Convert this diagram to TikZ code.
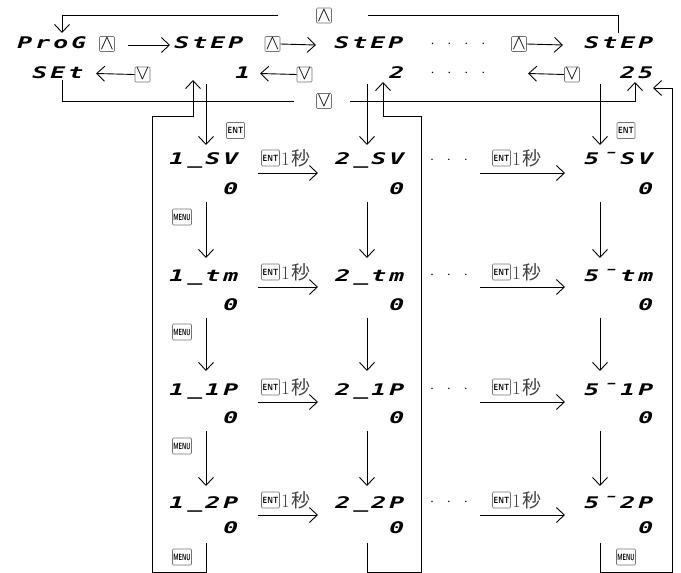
\documentclass[tikz,border=0pt]{standalone}
\usepackage{fontspec}
\usetikzlibrary{arrows.meta}
\newfontfamily\segfnt{DejaVu Sans Mono}[FakeStretch=1.55]
\newfontfamily\cjk{Noto Sans CJK JP}
\makeatletter
\newcommand\sg[1]{{\segfnt\bfseries\itshape\fontsize{16}{16}\selectfont\@tfor\sgx:=#1\do{\makebox[18pt][c]{\sgx}}}}
\makeatother
\newcommand\secs{{\fontsize{19}{19}\selectfont 1\kern2pt{\cjk 秒}}}
\newcommand\dotcells[1]{{\fontsize{14}{14}\selectfont\foreach \k in {1,...,#1}{\makebox[17pt][c]{$\cdot$}}}}
\tikzset{
  seg/.style={anchor=base east, inner sep=0pt},
  key/.style={draw=black!55, rounded corners=1pt, minimum width=15pt, minimum height=15pt,
    inner sep=0pt, line width=0.6pt, fill=white, font=\fontsize{22}{22}\selectfont},
  entkey/.style={draw=black!55, rounded corners=1pt, minimum width=18pt, minimum height=16pt,
    inner sep=0pt, line width=0.6pt, fill=white, font=\sffamily\bfseries\fontsize{9}{9}\selectfont},
  menukey/.style={draw=black!55, rounded corners=1pt, minimum width=19pt, minimum height=16pt,
    inner sep=0pt, line width=0.6pt, fill=white, font=\sffamily\bfseries\fontsize{9}{9}\selectfont},
  sec/.style={anchor=base west, inner sep=0pt, text=black!75},
  dots/.style={inner sep=0pt},
  ln/.style={line width=0.9pt},
  arr/.style={ln, -{Straight Barb[length=8pt,width=15pt]}},
}
\newcommand\menu{\scalebox{0.6}[1]{MENU}}
\newcommand\ent{\scalebox{0.8}[1]{ENT}}
\newcommand\upk{\raisebox{-1pt}{$\wedge$}}
\newcommand\dnk{\raisebox{1pt}{$\vee$}}
\begin{document}
\begin{tikzpicture}[x=1pt,y=-1pt]
\useasboundingbox (0,0) rectangle (681,573);

% ---------- top rows ----------
\node[seg] (prog) at (88,48) {\sg{ProG}};
\node[seg] (st1) at (245,48) {\sg{StEP}};
\node[seg] (st2) at (405,48) {\sg{StEP}};
\node[seg] (st3) at (655,48) {\sg{StEP}};
\node[seg] (set) at (85,78) {\sg{SEt}};
\node[seg] (n1) at (252,78) {\sg{1}};
\node[seg] (n2) at (406,78) {\sg{2}};
\node[seg] (n25) at (655,78) {\sg{25}};
\node[dots] (dt1) at (458,44) {\dotcells{4}};
\node[dots] (dt2) at (458,73) {\dotcells{4}};

\node[key] (u1) at (107,44) {\upk};
\node[key] (u2) at (272.5,44) {\upk};
\node[key] (u3) at (519,44) {\upk};
\node[key] (d1) at (142.5,74.5) {\dnk};
\node[key] (d2) at (304.5,74.5) {\dnk};
\node[key] (d3) at (572,74.5) {\dnk};
\node[key] (ut) at (324,15.5) {\upk};
\node[key] (db) at (324,101) {\dnk};

\draw[arr] (128,45) -- (170,45);
\draw[arr] (u2.east) -- (316,45);
\draw[arr] (u3.east) -- (563,45);
\draw[arr] (d1.west) -- (96,73.5);
\draw[arr] (d2.west) -- (260,73.5);
\draw[arr] (d3.west) -- (528,73.5);

% top loop: StEP(25) -> ProG
\draw[ln] (618,33) |- ([xshift=36pt]ut.east);
\draw[arr] ([xshift=-38pt]ut.west) -| (62,33);
% bottom loop: SEt -> 25
\draw[ln] (62,80) |- ([xshift=-22pt]db.west);
\draw[arr] ([xshift=18pt]db.east) -| (635,82);

% ---------- column 1 ----------
\node[seg] (a1) at (240,164) {\sg{1\_SV}};
\node[seg] (z1) at (240,194) {\sg{0}};
\node[seg] (a2) at (240,281) {\sg{1\_tm}};
\node[seg] (z2) at (240,310) {\sg{0}};
\node[seg] (a3) at (240,395) {\sg{1\_1P}};
\node[seg] (z3) at (240,423) {\sg{0}};
\node[seg] (a4) at (240,508) {\sg{1\_2P}};
\node[seg] (z4) at (240,533) {\sg{0}};

% ---------- column 2 ----------
\node[seg] (b1) at (406,164) {\sg{2\_SV}};
\node[seg] (y1) at (406,194) {\sg{0}};
\node[seg] (b2) at (406,281) {\sg{2\_tm}};
\node[seg] (y2) at (406,310) {\sg{0}};
\node[seg] (b3) at (406,395) {\sg{2\_1P}};
\node[seg] (y3) at (406,423) {\sg{0}};
\node[seg] (b4) at (406,508) {\sg{2\_2P}};
\node[seg] (y4) at (406,533) {\sg{0}};

% ---------- column 3 ----------
\node[seg] (c1) at (655,164) {\sg{5¯SV}};
\node[seg] (x1) at (655,194) {\sg{0}};
\node[seg] (c2) at (655,281) {\sg{5¯tm}};
\node[seg] (x2) at (655,310) {\sg{0}};
\node[seg] (c3) at (655,395) {\sg{5¯1P}};
\node[seg] (x3) at (655,423) {\sg{0}};
\node[seg] (c4) at (655,508) {\sg{5¯2P}};
\node[seg] (x4) at (655,533) {\sg{0}};

% dots between col2 and col3
\node[dots] (r1) at (449,160) {\dotcells{3}};
\node[dots] (r2) at (449,275) {\dotcells{3}};
\node[dots] (r3) at (449,389) {\dotcells{3}};
\node[dots] (r4) at (449,502) {\dotcells{3}};

% ENT / MENU keys
\node[entkey] (e0a) at (235.5,130.5) {\ent};
\node[entkey] (e0c) at (626,130.5) {\ent};
\node[menukey] (m1) at (182,217) {\menu};
\node[menukey] (m2) at (182,332) {\menu};
\node[menukey] (m3) at (182,446) {\menu};
\node[menukey] (m4) at (182,557) {\menu};
\node[menukey] (m5) at (626,557) {\menu};

% horizontal ENT 1s arrows
\foreach \r/\y in {1/173,2/287,3/402,4/515}{
  \node[entkey] (ea\r) at (270.5,\y-15) {\ent};
  \node[sec] (sa\r) at (281,\y-8) {\secs};
  \draw[arr] (258,\y) -- (318,\y);
  \node[entkey] (eb\r) at (501.5,\y-15) {\ent};
  \node[sec] (sb\r) at (512,\y-8) {\secs};
  \draw[arr] (480,\y) -- (565,\y);
}

% vertical arrows down each column
\foreach \x in {206,367,600}{
  \draw[arr] (\x,84) -- (\x,145);
  \draw[arr] (\x,202) -- (\x,258);
  \draw[arr] (\x,318) -- (\x,371);
  \draw[arr] (\x,431) -- (\x,486);
}

% return loops
\draw[arr] (206,543) -- (206,572) -- (152,572) -- (152,116) -- (193,116) -- (193,80);
\draw[arr] (367,543) -- (367,572) -- (421,572) -- (421,116) -- (383,116) -- (383,82);
\draw[arr] (600,543) -- (600,572) -- (672,572) -- (672,88) -- (653,88);
\end{tikzpicture}
\end{document}
